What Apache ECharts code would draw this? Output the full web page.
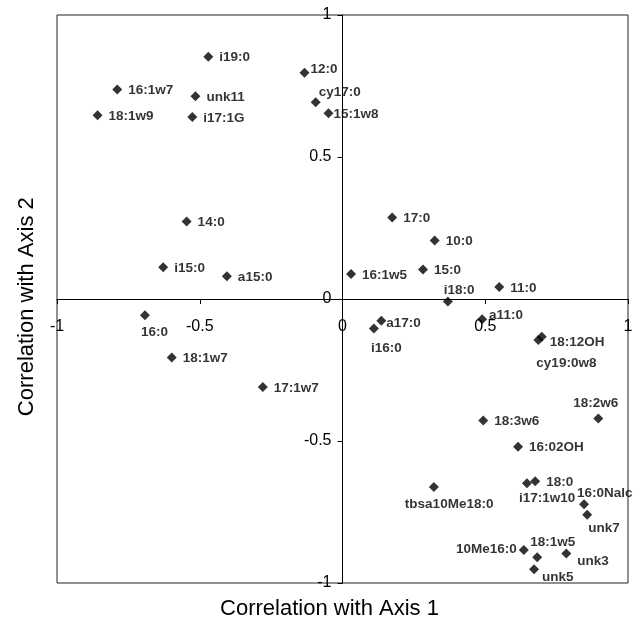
<!DOCTYPE html>
<html>
<head>
<meta charset="utf-8">
<script src="https://cdn.jsdelivr.net/npm/echarts@6/dist/echarts.min.js"></script>
<style>
html,body{margin:0;padding:0;background:#fff;}
#chart{width:634px;height:619px;}
</style>
</head>
<body>
<div id="chart"></div>
<script>
// ---- data ----
const names = ['i19:0','16:1w7','18:1w9','unk11','i17:1G','12:0','cy17:0','15:1w8','14:0','i15:0','a15:0','16:0','18:1w7','17:1w7','17:0','10:0','16:1w5','15:0','11:0','i18:0','a17:0','i16:0','a11:0','18:12OH','cy19:0w8','18:2w6','18:3w6','16:02OH','18:0','i17:1w10','tbsa10Me18:0','16:0Nalc','unk7','10Me16:0','18:1w5','unk3','unk5'];
const axis1 = [-0.470,-0.789,-0.858,-0.515,-0.526,-0.133,-0.094,-0.049,-0.546,-0.628,-0.405,-0.692,-0.598,-0.279,0.174,0.323,0.030,0.282,0.549,0.369,0.136,0.110,0.489,0.698,0.686,0.896,0.493,0.615,0.675,0.646,0.320,0.846,0.857,0.635,0.682,0.784,0.671];
const axis2 = [0.853,0.738,0.647,0.714,0.641,0.797,0.693,0.654,0.273,0.112,0.080,-0.057,-0.206,-0.310,0.287,0.206,0.088,0.104,0.042,-0.009,-0.077,-0.104,-0.071,-0.133,-0.144,-0.421,-0.428,-0.520,-0.642,-0.649,-0.662,-0.723,-0.760,-0.884,-0.909,-0.896,-0.952];
const tickLabels = ['-1','-0.5','0','0.5','1'];
const xTitle = 'Correlation with Axis 1';
const yTitle = 'Correlation with Axis 2';

// ---- label placement (style, not data): [dx, dy, align] ----
const labelPlace = {
  '12:0':[6,-3,'left'], 'cy17:0':[3,-10,'left'], '15:1w8':[5,1,'left'],
  '16:0':[-4,17,'left'], 'i18:0':[-4,-11,'left'], 'a17:0':[5,2,'left'],
  'i16:0':[-3,20,'left'], 'a11:0':[7,-4,'left'], '18:12OH':[8,6,'left'],
  'cy19:0w8':[-2,23,'left'], '18:2w6':[20,-15,'right'], 'i17:1w10':[-8,15,'left'],
  'tbsa10Me18:0':[-29,17,'left'], '16:0Nalc':[-7,-11,'left'], 'unk7':[1,13,'left'],
  '10Me16:0':[-7,-1,'right'], '18:1w5':[-7,-15,'left'], 'unk3':[11,8,'left'],
  'unk5':[8,8,'left']
};

const FONT = 'Liberation Sans, Arial, sans-serif';
const data = names.map((n,i)=>{
  const p = labelPlace[n] || [11,1,'left'];
  return {
    name:n, value:[axis1[i],axis2[i]],
    label:{show:true, position:'inside', align:p[2], verticalAlign:'middle', offset:[p[0],p[1]],
      formatter:n, color:'#000', fontWeight:'bold', fontSize:13.5, fontFamily:FONT}
  };
});

const chart = echarts.init(document.getElementById('chart'), null, {renderer:'canvas'});
const axisCommon = {
  type:'value', min:-1, max:1, interval:0.5,
  axisLine:{show:true, onZero:false, lineStyle:{color:'#000', width:1}},
  axisTick:{show:true, length:5, lineStyle:{color:'#000'}},
  splitLine:{show:false},
  axisLabel:{color:'#000', fontSize:16, fontFamily:FONT,
    formatter:(v)=>tickLabels[Math.round((v+1)*2)]}
};
function build(xOff, yOff){
  return {
    animation:false,
    backgroundColor:'#fff',
    grid:{left:57, right:6, top:15, bottom:36, show:true, borderColor:'#222', borderWidth:1,
      containLabel:false, outerBoundsMode:'none'},
    xAxis:Object.assign({}, axisCommon, {position:'bottom', offset:xOff,
      axisLabel:Object.assign({}, axisCommon.axisLabel, {margin:20})}),
    yAxis:Object.assign({}, axisCommon, {position:'left', offset:yOff,
      axisLabel:Object.assign({}, axisCommon.axisLabel, {margin:11})}),
    series:[{
      type:'scatter', symbol:'diamond', symbolSize:10,
      itemStyle:{color:'#000'},
      data:data
    }],
    graphic:[
      {type:'text', x:329.5, y:608.7, style:{text:xTitle, fontSize:22, fontFamily:FONT, fill:'#000',
        align:'center', verticalAlign:'middle', textAlign:'center', textVerticalAlign:'middle'}},
      {type:'text', x:27, y:306.7, rotation:Math.PI/2, style:{text:yTitle, fontSize:22, fontFamily:FONT, fill:'#000',
        align:'center', verticalAlign:'middle', textAlign:'center', textVerticalAlign:'middle'}}
    ]
  };
}
chart.setOption(build(0,0));
// move axes onto the zero lines using the library's own scale
const p0 = chart.convertToPixel({gridIndex:0}, [0,0]);
const pMin = chart.convertToPixel({gridIndex:0}, [-1,-1]);
chart.setOption(build(-(pMin[1]-p0[1]), -(p0[0]-pMin[0])));
</script>
</body>
</html>
